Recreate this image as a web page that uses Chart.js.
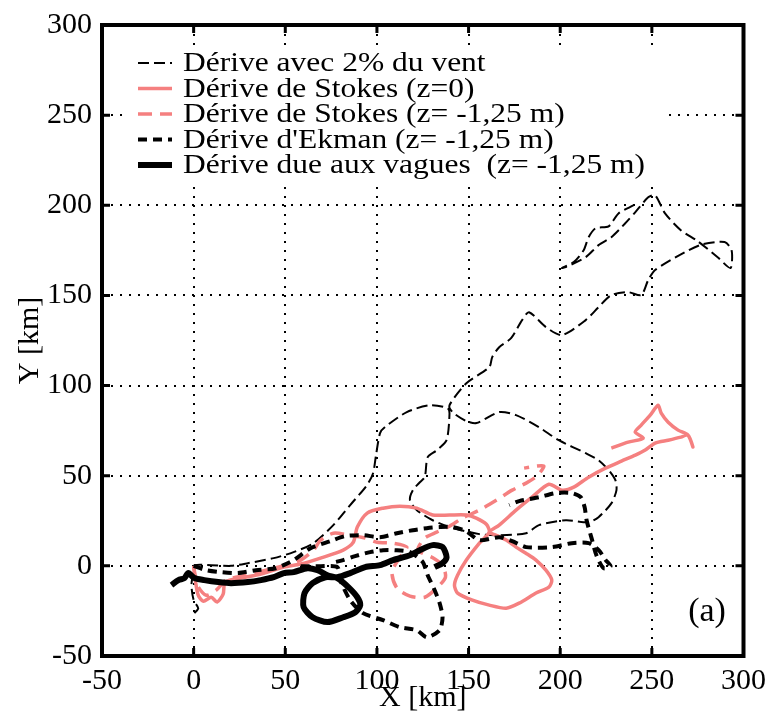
<!DOCTYPE html>
<html><head><meta charset="utf-8">
<script src="https://cdn.jsdelivr.net/npm/chart.js@4.4.0/dist/chart.umd.min.js"></script>
<style>html,body{margin:0;padding:0;background:#fff;}#wrap{width:776px;height:713px;}</style>
</head><body><div id="wrap"><canvas id="c" width="776" height="713"></canvas></div>
<script>
// ---- tick labels ----
const xTickValues = [-50, 0, 50, 100, 150, 200, 250, 300];
const yTickValues = [-50, 0, 50, 100, 150, 200, 250, 300];

// ---- series labels ----
const seriesLabels = [
  "Dérive avec 2% du vent",
  "Dérive de Stokes (z=0)",
  "Dérive de Stokes (z= -1,25 m)",
  "Dérive d'Ekman (z= -1,25 m)",
  "Dérive due aux vagues  (z= -1,25 m)"
];
const panelLabel = "(a)";

// ---- Dérive avec 2% du vent ----
const windX = [0.4, 2.5, 0, -1.2, 0, 0.4, 9.6, 20.4, 29.6, 43.7,
  54.5, 65.4, 76.2, 85.4, 94.6, 97.9, 99.5, 101.7, 104.4, 116.3,
  128.8, 138.5, 139.6, 138.0, 132.6, 127.7, 126.1, 123.4, 119.6, 118.0,
  121.8, 130.4, 139.6, 155.9, 166.7, 181.4, 188.4, 203.0, 215.5, 220.9,
  228.0, 230.7, 230.1, 226.4, 220.9, 213.9, 199.2, 188.4, 175.9, 166.7,
  154.3, 148.8, 141.2, 139.6, 148.8, 161.3, 162.9, 166.7, 173.2, 179.2,
  183.0, 192.2, 200.9, 213.9, 220.9, 227.9, 237.1, 244.2, 248.0, 251.8,
  268.0, 277.8, 289.7, 293.5, 292.9, 285.9, 275.0, 265.8, 257.2, 251.8,
  248.0, 240.9, 235.5, 227.9, 220.9, 213.9, 203.0, 200.9, 207.4, 212.8,
  215.5, 219.3, 226.4, 231.8, 239.9];
const windY = [-26.2, -23.5, -19.0, -10.7, -2.4, 0.4, 0.4, 0, 1.5, 4.3,
  7.6, 12.6, 22.6, 33.7, 44.8, 51.4, 61.4, 73.6, 77.0, 85.3,
  89.1, 87.5, 84.7, 69.7, 64.1, 60.3, 49.2, 46.4, 42.0, 36.4,
  30.9, 25.3, 21.5, 17.6, 17.0, 18.1, 22.6, 25.3, 24.2, 27.0,
  34.8, 42.0, 47.5, 53.1, 58.6, 62.5, 69.7, 76.9, 83.6, 85.3,
  79.2, 80.3, 85.3, 89.1, 101.3, 110.2, 115.8, 121.3, 126.3, 136.3,
  140.7, 132.4, 128.0, 136.3, 143.5, 150.2, 151.8, 150.2, 158.5, 164.1,
  174.0, 178.4, 179.6, 175.1, 165.2, 171.2, 180.1, 186.2, 195.5, 205.5,
  204.4, 196.1, 190.0, 182.3, 177.9, 171.2, 165.7, 165.2, 168.5, 175.1,
  182.3, 187.3, 188.3, 195.5, 199.9];

// ---- Dérive de Stokes (z=0) ----
const stokes0X = [0, 0.9, 2.5, 5.3, 9.6, 12.8, 16.1, 17.2, 25.8, 36.7,
  49.2, 58.4, 69.2, 81.6, 87.1, 89.3, 94.7, 103.3, 112.5, 121.7,
  130.4, 139.6, 148.8, 154.2, 159.7, 161.3, 155.9, 148.8, 144.0, 142.3,
  144.0, 152.1, 161.3, 170.5, 177.6, 186.8, 193.8, 195.4, 192.2, 186.8,
  181.3, 175.9, 170.5, 165.1, 161.3, 166.7, 175.9, 184.6, 193.8, 200.9,
  207.4, 215.5, 224.7, 233.4, 241.0, 246.4, 251.8, 258.9, 265.9, 269.7,
  272.4, 269.7, 264.3, 258.9, 255.1, 253.4, 249.1, 244.2, 240.9, 245.3,
  237.1, 227.9];
const stokes0Y = [0, -7.9, -16.3, -19.6, -17.4, -20.1, -15.7, -9.0, -6.8, -4.6,
  -0.7, 1.0, 4.3, 8.7, 13.1, 21.5, 29.3, 32.0, 33.1, 32.0,
  28.2, 28.2, 28.2, 26.5, 23.1, 18.7, 12.6, 3.2, -5.2, -10.7,
  -15.1, -19.0, -21.8, -23.5, -20.7, -15.1, -11.8, -7.9, -2.4, 3.2,
  7.0, 10.4, 14.3, 17.0, 18.7, 22.6, 30.9, 38.1, 45.3, 42.0,
  43.7, 49.2, 54.2, 58.1, 61.4, 64.2, 68.1, 69.7, 71.4, 72.5,
  65.9, 72.5, 75.3, 79.7, 84.7, 89.1, 83.6, 78.1, 74.2, 70.8,
  68.6, 65.3];

// ---- Dérive de Stokes (z= -1,25 m) ----
const stokesDX = [0, 2.0, 6.9, 12.3, 17.7, 28.6, 39.4, 50.2, 58.4, 65.4,
  69.2, 76.2, 85.4, 93.6, 100.1, 108.8, 116.3, 112.5, 108.2, 110.9,
  118.0, 126.1, 132.6, 137.4, 135.8, 129.9, 122.3, 126.1, 132.6, 139.6,
  146.6, 155.9, 165.1, 173.8, 181.4, 187.3, 191.1, 186.8, 180.3];
const stokesDY = [0, -10.7, -16.3, -13.5, -7.9, -5.2, -2.4, 0.4, 3.2, 8.7,
  14.2, 18.1, 17.0, 15.4, 13.1, 12.6, 10.4, 4.8, -3.5, -12.3,
  -16.8, -17.4, -12.3, -6.3, 0.4, 4.8, 8.7, 15.4, 18.7, 22.0,
  26.5, 30.9, 36.4, 42.0, 45.9, 49.8, 55.3, 55.3, 54.2];

// ---- Dérive d'Ekman (z= -1,25 m) (null = break in the track) ----
const ekmanX = [0, 6.9, 15.0, 24.2, 34.0, 44.8, 54.6, 63.8, 74.6, 82.7,
  92.4, 101.7, 110.9, 119.6, 127.2, 134.2, 141.2, 148.8, 155.9, 166.7,
  173.8, 181.4, 195.5, 206.3, 215.5, 221.0, 224.8, 227.5, 223.7, 219.9,
  217.1, 214.4, 213.3, 211.2, 206.3, 197.6, 188.4, 177.6, 172.2, null,
  58.4, 69.2, 78.4, 80.0, 85.4, 92.4, 103.3, 112.5, 121.7, 127.2,
  134.2, 135.8, 134.2, 131.5, 127.7, 125.0, 118.0, 109.9, 103.3, 96.3,
  88.1, 81.6, 74.6];
const ekmanY = [0, -2.4, -3.5, -4.0, -2.4, -1.3, 3.2, 9.8, 13.7, 16.5,
  17.0, 15.9, 18.1, 19.8, 20.9, 21.5, 21.5, 19.2, 14.2, 15.9,
  13.7, 10.4, 10.4, 12.6, 12.6, 8.7, 3.2, -0.2, -1.3, 5.4,
  15.4, 25.3, 32.6, 38.1, 40.4, 40.4, 38.1, 35.9, 33.7, null,
  -0.2, -0.2, -0.7, -7.9, -19.0, -26.2, -30.1, -34.0, -35.7, -39.6,
  -35.7, -28.5, -20.7, -13.5, -5.2, 2.1, 7.6, 8.7, 8.7, 7.6,
  5.4, 3.2, 1.5];

// ---- Dérive due aux vagues (z= -1,25 m) ----
const waveX = [-12.1, -8.3, -5.0, -2.9, 0.4, 5.8, 13.4, 20.4, 29.6, 36.7,
  43.7, 49.2, 54.6, 62.1, 67.6, 73.0, 78.4, 84.4, 89.3, 90.9,
  88.2, 81.6, 73.0, 64.9, 60.0, 60.5, 64.9, 71.9, 78.4, 85.4,
  93.6, 101.7, 108.8, 118.0, 123.4, 130.4, 135.8, 138.0, 135.8, 131.5];
const waveY = [-10.7, -7.9, -6.8, -4.0, -6.8, -7.9, -9.0, -9.6, -9.0, -7.9,
  -6.3, -4.0, -3.5, -1.3, -2.4, -5.2, -6.8, -11.8, -17.4, -21.8,
  -25.7, -28.5, -31.2, -28.5, -22.9, -15.1, -9.6, -6.3, -6.3, -4.0,
  -0.7, 0.4, 3.2, 5.9, 8.7, 11.5, 10.4, 4.8, 1.5, -0.7];

const PINK = 'rgb(245,128,128)';
const SERIF = "'Liberation Serif', 'Times New Roman', serif";

function pts(xs, ys) {
  return xs.map((x, i) => ({ x: x, y: ys[i] }));
}

const datasets = [
  { label: seriesLabels[0], data: pts(windX, windY), borderColor: '#000', borderWidth: 2, borderDash: [11, 5], order: 4 },
  { label: seriesLabels[1], data: pts(stokes0X, stokes0Y), borderColor: PINK, borderWidth: 3.5, borderDash: [], order: 3 },
  { label: seriesLabels[2], data: pts(stokesDX, stokesDY), borderColor: PINK, borderWidth: 3.5, borderDash: [14, 8], order: 2 },
  { label: seriesLabels[3], data: pts(ekmanX, ekmanY), borderColor: '#000', borderWidth: 4, borderDash: [9, 6], order: 1 },
  { label: seriesLabels[4], data: pts(waveX, waveY), borderColor: '#000', borderWidth: 6, borderDash: [], order: 0 }
].map(d => Object.assign(d, {
  pointRadius: 0, pointHoverRadius: 0, fill: false, tension: 0.25,
  borderJoinStyle: 'round', spanGaps: false, backgroundColor: d.borderColor
}));

const framePlugin = {
  id: 'frameLegend',
  afterDatasetsDraw(chart) {
    const ctx = chart.ctx;
    const { left, top, right, bottom } = chart.chartArea;
    const xs = chart.scales.x, ys = chart.scales.y;
    ctx.save();
    // legend background (hides grid behind the legend)
    ctx.fillStyle = '#fff';
    ctx.fillRect(128, 45, 534, 138);
    ctx.setLineDash([]);
    ctx.strokeStyle = '#000';
    // inward tick marks
    ctx.lineWidth = 3;
    xs.ticks.forEach(t => {
      const p = xs.getPixelForValue(t.value);
      ctx.beginPath();
      ctx.moveTo(p, top); ctx.lineTo(p, top + 8);
      ctx.moveTo(p, bottom); ctx.lineTo(p, bottom - 8);
      ctx.stroke();
    });
    ys.ticks.forEach(t => {
      const p = ys.getPixelForValue(t.value);
      ctx.beginPath();
      ctx.moveTo(left, p); ctx.lineTo(left + 8, p);
      ctx.moveTo(right, p); ctx.lineTo(right - 8, p);
      ctx.stroke();
    });
    // frame
    ctx.lineWidth = 4;
    ctx.strokeRect(left, top, right - left, bottom - top);
    // legend
    chart.data.datasets.forEach((ds, i) => {
      const base = 71 + 25.5 * i;
      const ly = base - 8;
      ctx.strokeStyle = ds.borderColor;
      ctx.lineWidth = ds.borderWidth;
      ctx.setLineDash(ds.borderDash || []);
      ctx.beginPath();
      ctx.moveTo(138, ly); ctx.lineTo(172, ly);
      ctx.stroke();
      ctx.setLineDash([]);
      ctx.save();
      ctx.scale(1, 0.85);
      ctx.font = '31.5px ' + SERIF;
      ctx.textAlign = 'left';
      ctx.textBaseline = 'alphabetic';
      ctx.fillStyle = '#000';
      ctx.fillText(ds.label, 183, base / 0.85);
      ctx.restore();
    });
    // panel label
    ctx.font = '34px ' + SERIF;
    ctx.fillStyle = '#000';
    ctx.textAlign = 'center';
    ctx.textBaseline = 'middle';
    ctx.fillText(panelLabel, 707, 612);
    ctx.restore();
  }
};

const tickFont = { family: SERIF, size: 30, lineHeight: 1 };
const titleFont = { family: SERIF, size: 30, lineHeight: 1 };

new Chart(document.getElementById('c'), {
  type: 'line',
  data: { datasets: datasets },
  options: {
    responsive: false,
    devicePixelRatio: 1,
    animation: false,
    events: [],
    layout: { padding: { top: 25, right: 28, left: 0, bottom: 0 } },
    plugins: { legend: { display: false }, tooltip: { enabled: false } },
    scales: {
      x: {
        type: 'linear', position: 'bottom', min: -50, max: 300,
        afterBuildTicks: s => { s.ticks = xTickValues.map(v => ({ value: v })); },
        afterFit: s => { s.height = 57; },
        ticks: { font: tickFont, color: '#000', padding: 10, maxRotation: 0, autoSkip: false },
        grid: { color: '#000', lineWidth: 2, drawTicks: false },
        border: { display: false, dash: [2, 7] },
        title: { display: true, text: 'X [km]', font: titleFont, color: '#000', padding: { top: 0, bottom: 0 } }
      },
      y: {
        type: 'linear', position: 'left', min: -50, max: 300,
        afterBuildTicks: s => { s.ticks = yTickValues.map(v => ({ value: v })); },
        afterFit: s => { s.width = 102; },
        ticks: { font: tickFont, color: '#000', padding: 10, autoSkip: false },
        grid: { color: '#000', lineWidth: 2, drawTicks: false },
        border: { display: false, dash: [2, 7] },
        title: { display: true, text: 'Y [km]', font: titleFont, color: '#000', padding: { top: 15, bottom: 0 } }
      }
    }
  },
  plugins: [framePlugin]
});
</script>
</body></html>
